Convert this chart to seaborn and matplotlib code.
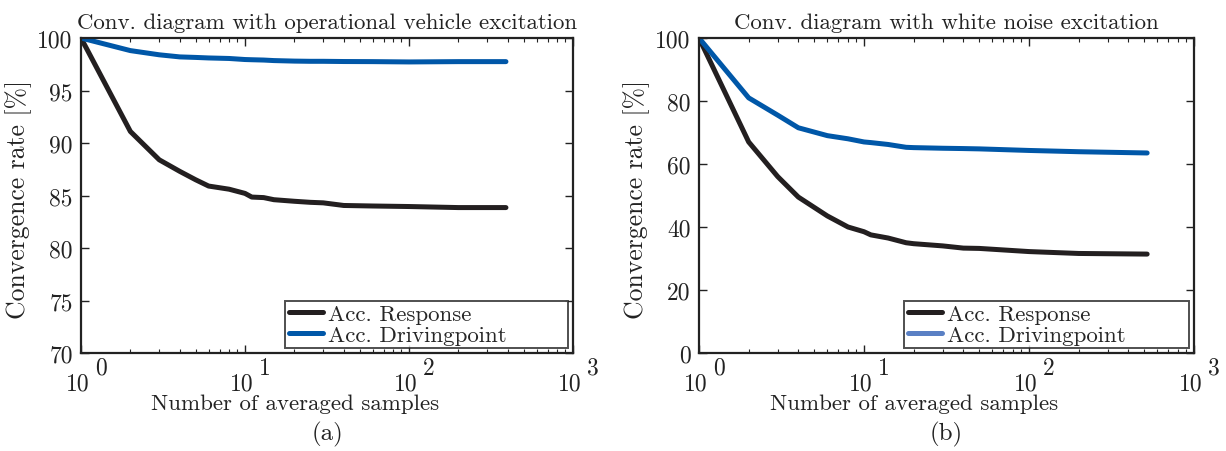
import numpy as np
import pandas as pd
import matplotlib
matplotlib.use("Agg")
import matplotlib.pyplot as plt
import matplotlib.transforms as mtransforms
from matplotlib.ticker import LogLocator, NullFormatter, FixedLocator
import seaborn as sns

# ---- data -------------------------------------------------------------
# (a) operational vehicle excitation
n_a = [1, 2, 3, 4, 5, 6, 8, 10, 11, 13, 15, 20, 25, 30, 40, 60, 100, 200, 390]
resp_a = [100, 91.1, 88.4, 87.3, 86.5, 85.9, 85.6, 85.2, 84.85, 84.8, 84.6,
          84.45, 84.35, 84.3, 84.05, 84.0, 83.95, 83.85, 83.85]
drive_a = [100, 98.8, 98.4, 98.2, 98.15, 98.1, 98.05, 97.95, 97.93, 97.9, 97.85,
           97.8, 97.78, 97.78, 97.76, 97.75, 97.72, 97.75, 97.75]

# (b) white noise excitation
n_b = [1, 2, 3, 4, 6, 8, 10, 11, 14, 18, 20, 30, 40, 50, 100, 200, 520]
resp_b = [100, 67.0, 56.0, 49.5, 43.5, 40.0, 38.5, 37.5, 36.5, 35.0, 34.7,
          34.0, 33.3, 33.2, 32.2, 31.6, 31.4]
drive_b = [100, 81.0, 75.5, 71.5, 69.0, 68.0, 67.0, 66.8, 66.2, 65.3, 65.2,
           65.0, 64.9, 64.8, 64.3, 63.9, 63.5]

series_names = ["Acc. Response", "Acc. Drivingpoint"]
titles = ["Conv. diagram with operational vehicle excitation",
          "Conv. diagram with white noise excitation"]
panel_tags = ["(a)", "(b)"]
y_ticks = [[70, 75, 80, 85, 90, 95, 100], [0, 20, 40, 60, 80, 100]]
x_decades = [1, 10, 100, 1000]

# ---- style ------------------------------------------------------------
sns.set_theme(style="white")
plt.rcParams["font.family"] = ["cmr10", "DejaVu Serif"]
plt.rcParams["axes.formatter.use_mathtext"] = True
plt.rcParams["mathtext.fontset"] = "cm"

BLACK = "#231f20"
BLUE = "#0057a8"
LIGHT_BLUE = "#5a80c4"
INK = "#222222"

fig = plt.figure(figsize=(12.26, 4.52), dpi=100)
W, H = 1226, 452
boxes = [(81, 573), (699, 1194)]
top_px, bot_px = 39, 354

panels = [
    (n_a, resp_a, drive_a, BLUE),
    (n_b, resp_b, drive_b, LIGHT_BLUE),
]

for i, (n, resp, drive, legend_blue) in enumerate(panels):
    x0, x1 = boxes[i]
    ax = fig.add_axes([x0 / W, (H - bot_px) / H, (x1 - x0) / W, (bot_px - top_px) / H])
    df = pd.DataFrame({
        "n": list(n) * 2,
        "rate": list(resp) + list(drive),
        "series": [series_names[0]] * len(n) + [series_names[1]] * len(n),
    })
    sns.lineplot(data=df, x="n", y="rate", hue="series",
                 palette=[BLACK, BLUE], linewidth=3.6, ax=ax, legend=False)
    ax.set_xscale("log")
    ax.set_xlim(1, 1000)
    yt = y_ticks[i]
    ax.set_ylim(yt[0], yt[-1])
    ax.yaxis.set_major_locator(FixedLocator(yt))
    ax.set_yticklabels([str(v) for v in yt], fontsize=17)

    ax.xaxis.set_major_locator(FixedLocator(x_decades))
    ax.xaxis.set_minor_locator(LogLocator(base=10, subs=np.arange(2, 10)))
    ax.xaxis.set_major_formatter(NullFormatter())
    ax.xaxis.set_minor_formatter(NullFormatter())

    ax.tick_params(which="both", direction="in", top=True, right=True,
                   bottom=True, left=True, colors=INK)
    ax.tick_params(which="major", length=6, width=1.0, pad=6)
    ax.tick_params(which="minor", length=3, width=0.8)
    for sp in ax.spines.values():
        sp.set_color(INK)
        sp.set_linewidth(1.6)

    # decade labels in the form 10 with a raised exponent
    trans = mtransforms.blended_transform_factory(ax.transData, ax.transAxes)
    base_tr = trans + mtransforms.ScaledTranslation(9 / 100, 0, fig.dpi_scale_trans)
    exp_tr = trans + mtransforms.ScaledTranslation(14 / 100, 0, fig.dpi_scale_trans)
    for d in x_decades:
        exp = int(round(np.log10(d)))
        ax.text(d, -0.062, "10", transform=base_tr, ha="right", va="top",
                fontsize=17, color=INK)
        ax.text(d, -0.012, str(exp), transform=exp_tr, ha="left", va="top",
                fontsize=17, color=INK)

    ax.set_xlabel("Number of averaged samples", fontsize=16.5, color=INK)
    ax.xaxis.set_label_coords(0.435, -0.128)
    ax.set_ylabel("Convergence rate [%]", fontsize=18.5, color=INK)
    ax.yaxis.set_label_coords(-0.1, 0.49)
    ax.set_title(titles[i], fontsize=16.5, color=INK, pad=7)
    ax.text(0.5, -0.215, panel_tags[i], transform=ax.transAxes, ha="center",
            va="top", fontsize=18, color=INK)

    handles = [plt.Line2D([], [], color=BLACK, lw=3.6),
               plt.Line2D([], [], color=legend_blue, lw=3.6)]
    leg = ax.legend(handles, series_names, loc="lower left", fontsize=16.5,
                    frameon=True, fancybox=False, handlelength=1.5,
                    handletextpad=0.2, borderpad=0.15, labelspacing=0.0,
                    borderaxespad=0.0, mode="expand",
                    bbox_to_anchor=(0.415, 0.016, 0.575, 0.15))
    leg.get_frame().set_edgecolor(INK)
    leg.get_frame().set_linewidth(1.4)

fig.savefig("out.png", dpi=100, facecolor="white")
